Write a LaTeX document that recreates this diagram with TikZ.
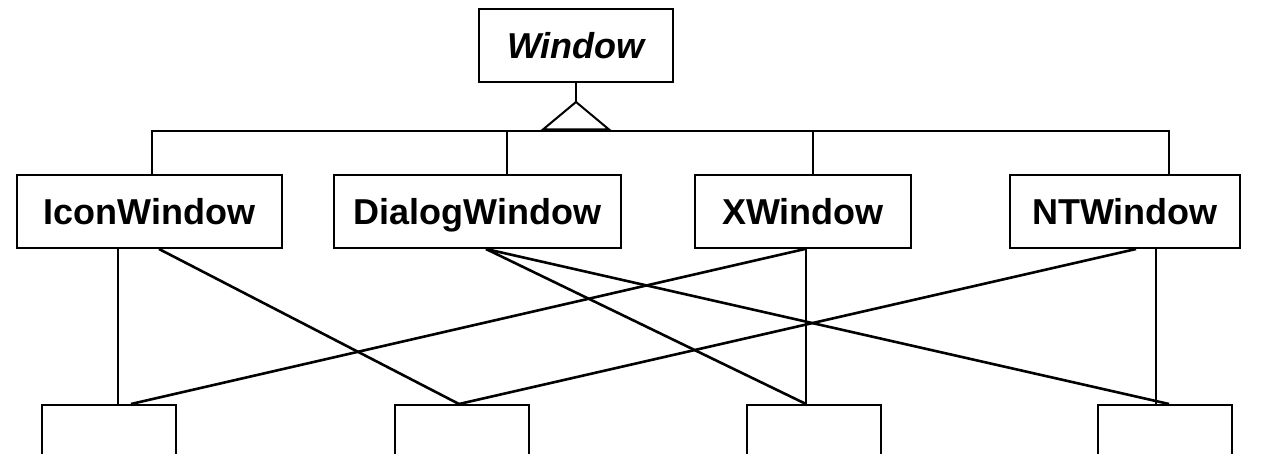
\documentclass[tikz,border=0pt]{standalone}
\usepackage{fontspec}
\setmainfont{Liberation Sans}
\usetikzlibrary{calc}
\begin{document}
\begin{tikzpicture}[x=0.5pt,y=-0.5pt,
  cls/.style={draw, line width=1pt, inner sep=0pt, minimum height=36.5pt,
    text height=13pt, text depth=0pt,
    font=\fontsize{18}{20}\selectfont\bfseries},
  impl/.style={draw, line width=1pt, inner sep=0pt, minimum width=67pt, minimum height=40pt, anchor=north},
  tree/.style={line width=1pt},
  link/.style={line width=1.3pt},
  vlink/.style={line width=1pt}]
\useasboundingbox (0,0) rectangle (1262,454);
\clip (0,0) rectangle (1262,454);
% classes
\node[cls, minimum width=97pt, font=\fontsize{18}{20}\selectfont\bfseries\itshape] (win) at (576,45.5) {Window};
\node[cls, minimum width=132.5pt] (icon) at (149.5,211.5) {IconWindow};
\node[cls, minimum width=143.5pt] (dlg) at (477.5,211.5) {DialogWindow};
\node[cls, minimum width=108pt] (xw) at (803,211.5) {XWindow};
\node[cls, minimum width=115pt] (nt) at (1125,211.5) {NTWindow};
% implementation boxes
\node[impl] (b1) at (109,404) {};
\node[impl] (b2) at (461.5,404) {};
\node[impl] (b3) at (813.5,404) {};
\node[impl] (b4) at (1164.5,404) {};
% inheritance
\coordinate (apex) at (576,102);
\coordinate (tl) at (543,129.5);
\coordinate (tr) at (609,129.5);
\coordinate (bar) at (576,131.5);
\draw[tree] (win.south) -- (apex);
\draw[tree, line join=miter] (apex) -- (tl) -- (tr) -- cycle;
\draw[tree] ([xshift=1.25pt]icon.north) |- (bar) -| ([xshift=22pt]nt.north);
\draw[tree] ([xshift=14.75pt]dlg.north) -- ([xshift=14.75pt]dlg.north |- bar);
\draw[tree] ([xshift=5pt]xw.north) -- ([xshift=5pt]xw.north |- bar);
% bridge links
\draw[vlink] ([xshift=-15.75pt]icon.south) -- ([xshift=4.5pt]b1.north);
\draw[link] ([xshift=4.75pt]icon.south) -- ([xshift=-1.25pt]b2.north);
\draw[link] ([xshift=4.25pt]dlg.south) -- ([xshift=-3.75pt]b3.north);
\draw[link] ([xshift=4.25pt]dlg.south) -- ([xshift=2.25pt]b4.north);
\draw[link] ([xshift=1pt]xw.south) -- ([xshift=11pt]b1.north);
\draw[vlink] ([xshift=1.5pt]xw.south) -- ([xshift=-3.75pt]b3.north);
\draw[link] ([xshift=5.5pt]nt.south) -- ([xshift=-1.25pt]b2.north);
\draw[vlink] ([xshift=15.5pt]nt.south) -- ([xshift=-4.25pt]b4.north);
\end{tikzpicture}
\end{document}
